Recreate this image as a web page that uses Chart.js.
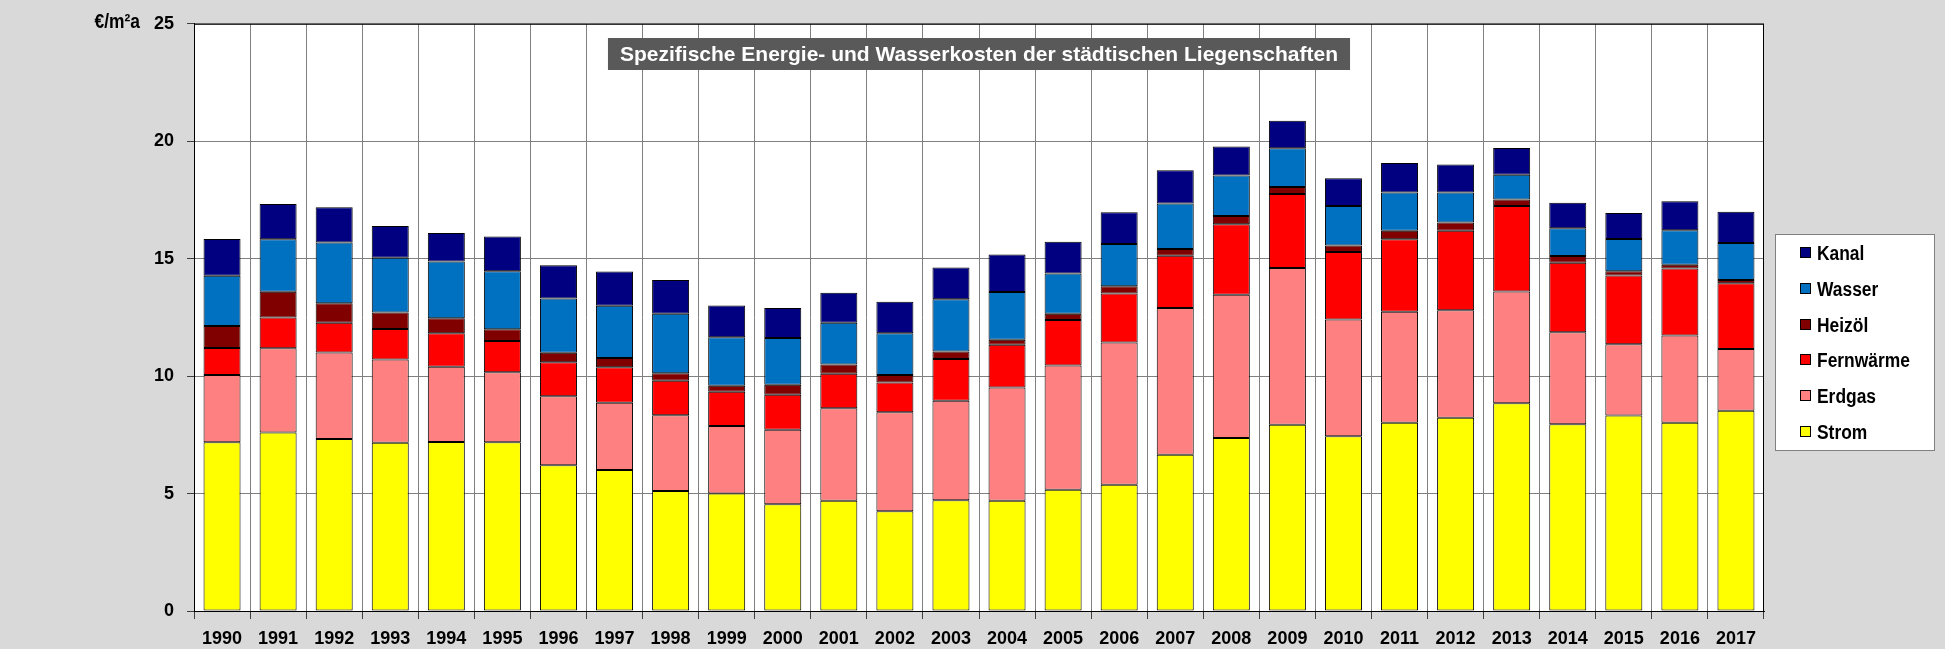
<!DOCTYPE html>
<html>
<head>
<meta charset="utf-8">
<script src="https://cdn.jsdelivr.net/npm/chart.js@4/dist/chart.umd.min.js"></script>
<style>
    html, body { margin: 0; padding: 0; background: #d9d9d9; }
    #chart { display: block; }
</style>
</head>
<body>
<canvas id="chart" width="1945" height="649"></canvas>
<script>
// values, €/m²a per year
const years = ['1990', '1991', '1992', '1993', '1994', '1995', '1996', '1997', '1998', '1999',
    '2000', '2001', '2002', '2003', '2004', '2005', '2006', '2007', '2008', '2009',
    '2010', '2011', '2012', '2013', '2014', '2015', '2016', '2017'];

const strom = [7.18, 7.60, 7.32, 7.16, 7.20, 7.18, 6.20, 6.00, 5.11, 5.00,
    4.55, 4.69, 4.25, 4.71, 4.69, 5.16, 5.37, 6.65, 7.37, 7.93,
    7.44, 8.02, 8.23, 8.84, 7.95, 8.32, 8.02, 8.53];
const erdgas = [2.87, 3.59, 3.69, 3.55, 3.20, 2.99, 2.94, 2.87, 3.22, 2.88,
    3.17, 3.94, 4.21, 4.24, 4.83, 5.29, 6.06, 6.25, 6.09, 6.67,
    4.97, 4.72, 4.57, 4.76, 3.92, 3.04, 3.71, 2.62];
const fernwaerme = [1.15, 1.31, 1.26, 1.30, 1.43, 1.33, 1.45, 1.51, 1.47, 1.45,
    1.49, 1.47, 1.27, 1.78, 1.82, 1.94, 2.09, 2.23, 3.01, 3.15,
    2.87, 3.09, 3.39, 3.64, 2.96, 2.92, 2.85, 2.80];
const heizoel = [0.93, 1.09, 0.83, 0.70, 0.63, 0.50, 0.40, 0.39, 0.32, 0.26,
    0.42, 0.40, 0.32, 0.32, 0.21, 0.27, 0.31, 0.28, 0.35, 0.30,
    0.28, 0.36, 0.35, 0.28, 0.28, 0.18, 0.16, 0.14];
const wasser = [2.14, 2.24, 2.59, 2.33, 2.42, 2.47, 2.31, 2.23, 2.54, 2.07,
    1.99, 1.77, 1.78, 2.22, 2.03, 1.71, 1.79, 1.94, 1.72, 1.65,
    1.68, 1.63, 1.28, 1.05, 1.19, 1.38, 1.47, 1.58];
const kanal = [1.57, 1.50, 1.50, 1.35, 1.21, 1.47, 1.42, 1.45, 1.43, 1.35,
    1.28, 1.28, 1.34, 1.35, 1.60, 1.35, 1.36, 1.42, 1.24, 1.17,
    1.18, 1.25, 1.19, 1.14, 1.08, 1.11, 1.23, 1.33];

const titleText = 'Spezifische Energie- und Wasserkosten der städtischen Liegenschaften';
const unitText = '€/m²a';

const sans = "'Liberation Sans', Arial, sans-serif";

function series(label, data, color) {
    return {
        label: label,
        data: data,
        backgroundColor: color,
        borderColor: '#000000',
        borderWidth: 1,
        borderSkipped: false,
        categoryPercentage: 1,
        barPercentage: 0.66
    };
}

// narrow-looking text: squeeze bold Liberation Sans horizontally
function narrowText(ctx, text, x, y, align) {
    ctx.save();
    ctx.font = 'bold 20px ' + sans;
    ctx.textAlign = align;
    ctx.textBaseline = 'middle';
    ctx.translate(x, y);
    ctx.scale(0.87, 1);
    ctx.fillText(text, 0, 0);
    ctx.restore();
}

// white plot area, frame, title box, unit label and legend box
const decorations = {
    id: 'decorations',
    beforeDraw(chart) {
        const ctx = chart.ctx;
        const a = chart.chartArea;
        ctx.save();
        ctx.fillStyle = '#ffffff';
        ctx.fillRect(a.left, a.top, a.right - a.left, a.bottom - a.top);
        ctx.restore();
    },
    afterDraw(chart) {
        const ctx = chart.ctx;
        const a = chart.chartArea;
        ctx.save();

        // frame
        ctx.strokeStyle = '#000000';
        ctx.lineWidth = 1;
        ctx.strokeRect(a.left + 0.5, a.top + 0.5, a.right - a.left - 1, a.bottom - a.top);

        // title
        ctx.font = 'bold 21px ' + sans;
        const tw = ctx.measureText(titleText).width;
        const cx = (a.left + a.right) / 2;
        const bw = tw + 24;
        ctx.fillStyle = '#595959';
        ctx.fillRect(cx - bw / 2, 38, bw, 32);
        ctx.fillStyle = '#ffffff';
        ctx.textAlign = 'center';
        ctx.textBaseline = 'middle';
        ctx.fillText(titleText, cx, 55);

        // unit
        ctx.fillStyle = '#000000';
        narrowText(ctx, unitText, 140, 22, 'right');

        // legend
        ctx.fillStyle = '#ffffff';
        ctx.fillRect(1775, 234, 160, 217);
        ctx.strokeStyle = '#808080';
        ctx.strokeRect(1775.5, 234.5, 159, 216);
        const sets = chart.data.datasets.slice().reverse();
        sets.forEach(function (ds, i) {
            const y = Math.round(253 + i * 35.8);
            ctx.fillStyle = ds.backgroundColor;
            ctx.fillRect(1800, y - 6, 11, 11);
            ctx.strokeStyle = '#000000';
            ctx.strokeRect(1800.5, y - 5.5, 10, 10);
            ctx.fillStyle = '#000000';
            narrowText(ctx, ds.label, 1817, y + 1, 'left');
        });
        ctx.restore();
    }
};

document.addEventListener('DOMContentLoaded', function () {
    const canvas = document.getElementById('chart');

    new Chart(canvas, {
        type: 'bar',
        data: {
            labels: years,
            datasets: [
                series('Strom', strom, '#ffff00'),
                series('Erdgas', erdgas, '#ff8080'),
                series('Fernwärme', fernwaerme, '#ff0000'),
                series('Heizöl', heizoel, '#800000'),
                series('Wasser', wasser, '#0070c0'),
                series('Kanal', kanal, '#000080')
            ]
        },
        options: {
            responsive: false,
            devicePixelRatio: 1,
            animation: false,
            layout: {
                padding: { top: 21, right: 181, left: 0, bottom: 0 }
            },
            plugins: {
                legend: { display: false },
                title: { display: false },
                tooltip: { enabled: false }
            },
            scales: {
                x: {
                    stacked: true,
                    grid: {
                        offset: true,
                        color: '#808080',
                        tickColor: '#404040',
                        tickLength: 8
                    },
                    border: { color: '#000000' },
                    ticks: {
                        color: '#000000',
                        font: { family: sans, size: 18, weight: 'bold' },
                        maxRotation: 0,
                        autoSkip: false,
                        padding: 9
                    },
                    afterFit: function (scale) { scale.height = 38; }
                },
                y: {
                    stacked: true,
                    min: 0,
                    max: 25,
                    grid: {
                        color: '#808080',
                        tickColor: '#404040',
                        tickLength: 7
                    },
                    border: { color: '#000000' },
                    ticks: {
                        stepSize: 5,
                        color: '#000000',
                        padding: 13,
                        font: { family: sans, size: 18, weight: 'bold' }
                    },
                    afterFit: function (scale) { scale.width = 194; }
                }
            }
        },
        plugins: [decorations]
    });
});
</script>
</body>
</html>
